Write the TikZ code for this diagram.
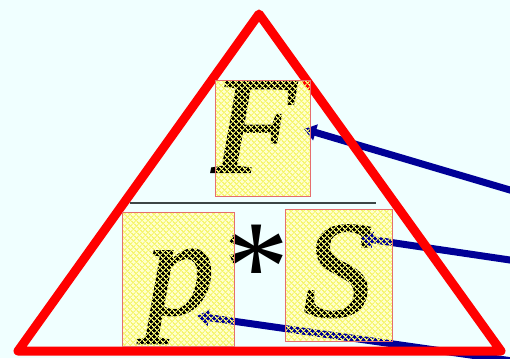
\documentclass[tikz,border=0pt]{standalone}
\usepackage{fontspec}
\setmainfont{Liberation Serif}
\newfontface\letraGruesa[FakeBold=1.6]{Liberation Serif Italic}
\usetikzlibrary{arrows.meta, patterns.meta, positioning}
\definecolor{fondoAzul}{RGB}{240,255,255}
\definecolor{rojoTri}{RGB}{255,0,0}
\definecolor{azulFlecha}{RGB}{0,0,150}
\definecolor{bordeCaja}{RGB}{230,110,110}
\definecolor{amarilloMalla}{RGB}{245,245,110}
\definecolor{fondoCaja}{RGB}{255,255,205}
\definecolor{grisBarra}{RGB}{60,70,70}

\tikzdeclarepattern{
  name=ymalla,
  type=uncolored,
  bounding box={(0pt,0pt) and (4pt,4pt)},
  tile size={(4pt,4pt)},
  tile transformation={rotate=45},
  code={
    \fill (0pt,0pt) rectangle (4pt,1.2pt);
    \fill (0pt,0pt) rectangle (1.2pt,4pt);
  }
}

\tikzset{
  caja/.style={rectangle, inner sep=0pt, fill=fondoCaja},
  letra/.style={inner sep=0pt, anchor=base, font=\fontsize{137}{137}\letraGruesa},
  flecha/.style={draw=azulFlecha, line width=7pt, -{Triangle[length=12pt,width=16pt]}},
}

\begin{document}
\begin{tikzpicture}[x=1pt, y=-1pt]
  \fill[fondoAzul] (0,0) rectangle (510,358);
  \useasboundingbox (0,0) rectangle (510,358);

  % cajas de las letras
  \node[caja, minimum width=94pt, minimum height=115pt] (cajaF) at (263,138.5) {};
  \node[caja, minimum width=111pt, minimum height=133pt] (cajaP) at (178.5,279.5) {};
  \node[caja, minimum width=106pt, minimum height=131pt] (cajaS) at (339,275.5) {};

  % letras de la formula
  \node[letra] (F) at (254,172) {F};
  \node[letra] (p) at (180,314) {p};
  \node[letra] (S) at (338,316) {S};
  \node[inner sep=0pt, anchor=base, font=\fontsize{132}{132}\selectfont] (por) at (256,311) {*};

  % flechas
  \coordinate (inicioF) at (514,191.2);
  \coordinate (puntaF) at (304,129);
  \coordinate (inicioS) at (514,260.6);
  \coordinate (puntaS) at (361,238);
  \coordinate (inicioP) at (514,361.2);
  \coordinate (puntaP) at (197,316);
  \draw[flecha] (inicioF) -- (puntaF);
  \draw[flecha] (inicioS) -- (puntaS);
  \draw[flecha] (inicioP) -- (puntaP);

  % triangulo
  \coordinate (cima) at (259,14);
  \coordinate (izq) at (18,351);
  \coordinate (der) at (501,351);
  \draw[rojoTri, line width=9pt, line join=round] (cima) -- (izq) -- (der) -- cycle;

  % barra de fraccion
  \draw[grisBarra, line width=1.8pt] (130,203) -- (376,203);

  % malla y bordes
  \foreach \c in {cajaF, cajaP, cajaS} {
    \fill[pattern=ymalla, pattern color=amarilloMalla] (\c.south west) rectangle (\c.north east);
    \draw[bordeCaja, line width=1pt] (\c.south west) rectangle (\c.north east);
  }
\end{tikzpicture}
\end{document}
